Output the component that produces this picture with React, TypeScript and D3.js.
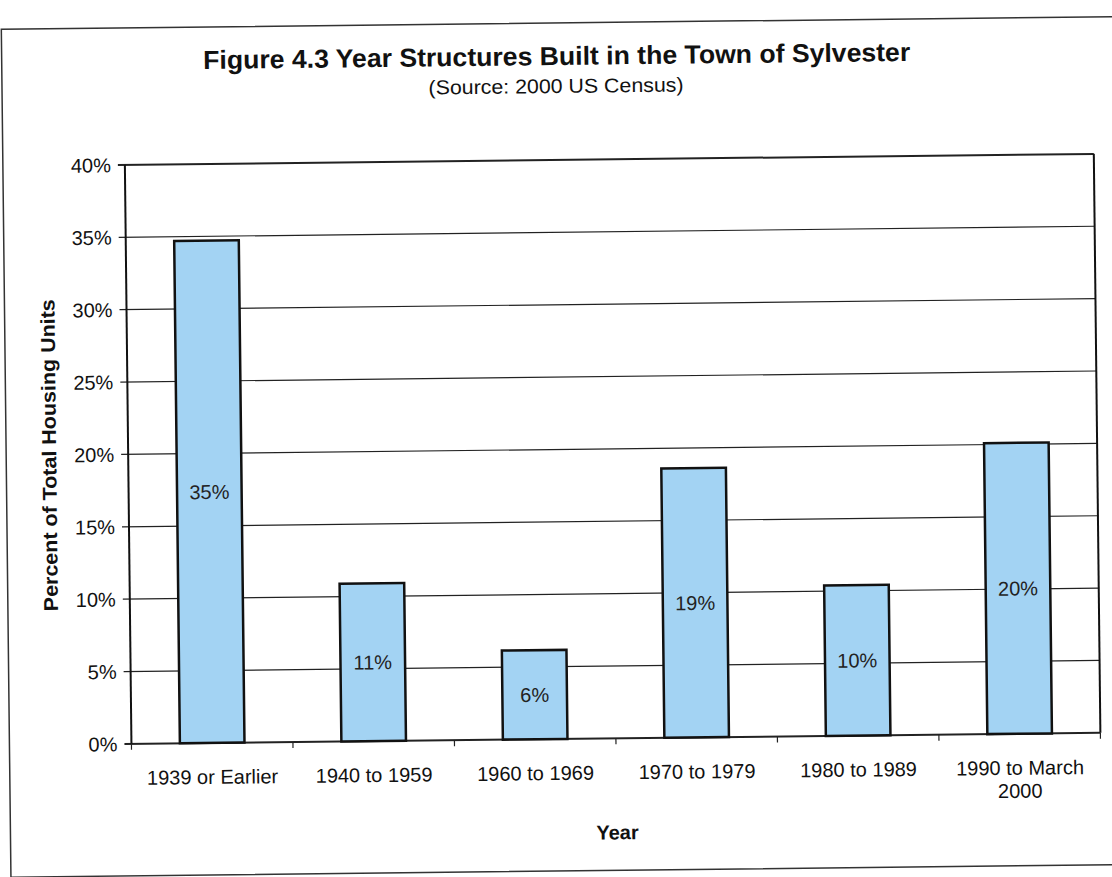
import React from "react";
import * as d3 from "d3";

const categories = ["1939 or Earlier", "1940 to 1959", "1960 to 1969", "1970 to 1979", "1980 to 1989", "1990 to March 2000"];
const values = [34.7, 10.9, 6.15, 18.6, 10.4, 20.1];
const valueLabels = ["35%", "11%", "6%", "19%", "10%", "20%"];
const yTicks = [0, 5, 10, 15, 20, 25, 30, 35, 40];

const W = 1112, H = 877;
const plot = { left: 128, right: 1097, top: 160, bottom: 739 };
const FONT = "'Liberation Sans', Arial, sans-serif";

export default function App() {
  const x = d3.scaleBand<string>().domain(categories).range([plot.left, plot.right]).paddingInner(0.6).paddingOuter(0.3);
  const y = d3.scaleLinear().domain([0, 40]).range([plot.bottom, plot.top]);
  const step = (plot.right - plot.left) / categories.length;

  return (
    <svg width={W} height={H} style={{ position: "absolute", left: 0, top: 0, background: "#fff" }} fontFamily={FONT}>
      <rect x={0} y={0} width={W} height={H} fill="#fff" />
      <g transform={`rotate(-0.65, 556, 438)`}>
        <rect x={6} y={23} width={1120} height={848} fill="none" stroke="#333" strokeWidth={1.5} />
        <text x={561} y={65} textAnchor="middle" fontSize={26} fontWeight="bold" fill="#111" textLength={707} lengthAdjust="spacingAndGlyphs">
          Figure 4.3 Year Structures Built in the Town of Sylvester
        </text>
        <text x={560} y={93} textAnchor="middle" fontSize={20} fill="#111" textLength={255} lengthAdjust="spacingAndGlyphs">(Source: 2000 US Census)</text>

        {yTicks.map((t) => (
          <g key={t}>
            <line x1={plot.left - 7} x2={plot.right} y1={y(t)} y2={y(t)} stroke="#222" strokeWidth={t === 0 || t === 40 ? 2 : 1.2} />
            <text x={plot.left - 14} y={y(t)} dy="0.36em" textAnchor="end" fontSize={20} fill="#111">{t}%</text>
          </g>
        ))}
        <line x1={plot.left} x2={plot.left} y1={plot.top} y2={plot.bottom} stroke="#111" strokeWidth={2} />
        <line x1={plot.right} x2={plot.right} y1={plot.top} y2={plot.bottom} stroke="#111" strokeWidth={2} />
        {d3.range(categories.length + 1).map((i) => (
          <line key={i} x1={plot.left + i * step} x2={plot.left + i * step} y1={plot.bottom} y2={plot.bottom + 6} stroke="#222" strokeWidth={1.2} />
        ))}

        {categories.map((c, i) => (
          <g key={c}>
            <rect x={x(c)} y={y(values[i])} width={x.bandwidth()} height={y(0) - y(values[i])} fill="#a3d3f3" stroke="#111" strokeWidth={2.5} />
            <text x={(x(c) as number) + x.bandwidth() / 2} y={(y(values[i]) + y(0)) / 2} dy="0.36em" textAnchor="middle" fontSize={20} fill="#222">{valueLabels[i]}</text>
          </g>
        ))}

        {categories.map((c) => {
          const cx = (x(c) as number) + x.bandwidth() / 2;
          const parts = c === "1990 to March 2000" ? ["1990 to March", "2000"] : [c];
          return (
            <text key={c} x={cx} y={plot.bottom + 41} textAnchor="middle" fontSize={20} fill="#111">
              {parts.map((p, j) => (
                <tspan key={j} x={cx} dy={j === 0 ? 0 : 23}>{p}</tspan>
              ))}
            </text>
          );
        })}

        <text x={613} y={840} textAnchor="middle" fontSize={20} fontWeight="bold" fill="#111">Year</text>
        <text transform={`translate(56, ${(plot.top + plot.bottom) / 2}) rotate(-90)`} textAnchor="middle" fontSize={20} fontWeight="bold" fill="#111" textLength={312} lengthAdjust="spacingAndGlyphs">
          Percent of Total Housing Units
        </text>
      </g>
    </svg>
  );
}
